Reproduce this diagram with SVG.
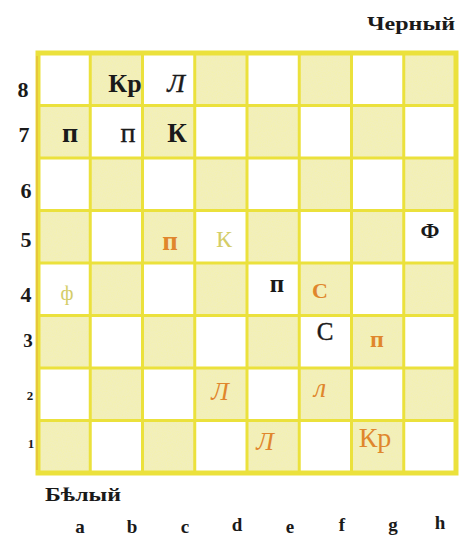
<svg xmlns="http://www.w3.org/2000/svg" width="473" height="542" viewBox="0 0 473 542">
<defs>
  <filter id="speck" x="0" y="0" width="100%" height="100%">
    <feTurbulence type="fractalNoise" baseFrequency="0.8" numOctaves="2" seed="3" result="n"/>
    <feColorMatrix in="n" type="matrix" values="0 0 0 0 0.9  0 0 0 0 0.88  0 0 0 0 0.42  0 0 0 -2.2 1.3" result="dots"/>
    <feComposite in="dots" in2="SourceGraphic" operator="in" result="dotsIn"/>
    <feMerge><feMergeNode in="SourceGraphic"/><feMergeNode in="dotsIn"/></feMerge>
  </filter>
</defs>
<style>
  .dk { fill: #f2efbb; }
  .grid { stroke: #ebe13c; stroke-width: 3; fill: none; }
  .lbl { font-family: "Liberation Serif", "DejaVu Serif", serif; font-weight: bold; fill: #1a1a1a; }
  .pc { font-family: "Liberation Serif", "DejaVu Serif", serif; text-anchor: middle; }
  .b { fill: #1a1a1a; font-weight: bold; }
  .bn { fill: #1a1a1a; }
  .o { fill: #e0862c; }
  .pale { fill: #d4cd68; }
  .file { font-family: "Liberation Serif", "DejaVu Serif", serif; font-weight: bold; font-size: 19px; fill: #1a1a1a; text-anchor: middle; }
  .rank { font-family: "Liberation Serif", "DejaVu Serif", serif; font-weight: bold; fill: #1a1a1a; text-anchor: middle; }
</style>
<rect x="0" y="0" width="473" height="542" fill="#ffffff"/>
<g id="board">
  <g id="dark-squares" filter="url(#speck)">
    <rect class="dk" x="90.25" y="53" width="52.25" height="52.5"/>
    <rect class="dk" x="194.75" y="53" width="52.25" height="52.5"/>
    <rect class="dk" x="299.25" y="53" width="52.25" height="52.5"/>
    <rect class="dk" x="403.75" y="53" width="52.25" height="52.5"/>
    <rect class="dk" x="38" y="105.5" width="52.25" height="52.5"/>
    <rect class="dk" x="142.5" y="105.5" width="52.25" height="52.5"/>
    <rect class="dk" x="247" y="105.5" width="52.25" height="52.5"/>
    <rect class="dk" x="351.5" y="105.5" width="52.25" height="52.5"/>
    <rect class="dk" x="90.25" y="158" width="52.25" height="52.5"/>
    <rect class="dk" x="194.75" y="158" width="52.25" height="52.5"/>
    <rect class="dk" x="299.25" y="158" width="52.25" height="52.5"/>
    <rect class="dk" x="403.75" y="158" width="52.25" height="52.5"/>
    <rect class="dk" x="38" y="210.5" width="52.25" height="52.5"/>
    <rect class="dk" x="142.5" y="210.5" width="52.25" height="52.5"/>
    <rect class="dk" x="247" y="210.5" width="52.25" height="52.5"/>
    <rect class="dk" x="351.5" y="210.5" width="52.25" height="52.5"/>
    <rect class="dk" x="90.25" y="263" width="52.25" height="52.5"/>
    <rect class="dk" x="194.75" y="263" width="52.25" height="52.5"/>
    <rect class="dk" x="299.25" y="263" width="52.25" height="52.5"/>
    <rect class="dk" x="403.75" y="263" width="52.25" height="52.5"/>
    <rect class="dk" x="38" y="315.5" width="52.25" height="52.5"/>
    <rect class="dk" x="142.5" y="315.5" width="52.25" height="52.5"/>
    <rect class="dk" x="247" y="315.5" width="52.25" height="52.5"/>
    <rect class="dk" x="351.5" y="315.5" width="52.25" height="52.5"/>
    <rect class="dk" x="90.25" y="368" width="52.25" height="52.5"/>
    <rect class="dk" x="194.75" y="368" width="52.25" height="52.5"/>
    <rect class="dk" x="299.25" y="368" width="52.25" height="52.5"/>
    <rect class="dk" x="403.75" y="368" width="52.25" height="52.5"/>
    <rect class="dk" x="38" y="420.5" width="52.25" height="52.5"/>
    <rect class="dk" x="142.5" y="420.5" width="52.25" height="52.5"/>
    <rect class="dk" x="247" y="420.5" width="52.25" height="52.5"/>
    <rect class="dk" x="351.5" y="420.5" width="52.25" height="52.5"/>
  </g>
  <g id="grid-lines" class="grid">
    <line x1="90.25" y1="53" x2="90.25" y2="473"/>
    <line x1="142.5" y1="53" x2="142.5" y2="473"/>
    <line x1="194.75" y1="53" x2="194.75" y2="473"/>
    <line x1="247" y1="53" x2="247" y2="473"/>
    <line x1="299.25" y1="53" x2="299.25" y2="473"/>
    <line x1="351.5" y1="53" x2="351.5" y2="473"/>
    <line x1="403.75" y1="53" x2="403.75" y2="473"/>
    <line x1="38" y1="105.5" x2="456" y2="105.5"/>
    <line x1="38" y1="158" x2="456" y2="158"/>
    <line x1="38" y1="210.5" x2="456" y2="210.5"/>
    <line x1="38" y1="263" x2="456" y2="263"/>
    <line x1="38" y1="315.5" x2="456" y2="315.5"/>
    <line x1="38" y1="368" x2="456" y2="368"/>
    <line x1="38" y1="420.5" x2="456" y2="420.5"/>
    <rect x="38" y="53" width="418" height="420" stroke-width="5"/>
  </g>
  <line x1="37" y1="56" x2="37" y2="470" stroke="#e2a83a" stroke-width="1.5" opacity="0.6"/>
</g>
<g id="titles">
  <text id="black-title" class="lbl" x="367" y="30" font-size="19" textLength="88" lengthAdjust="spacingAndGlyphs">Черный</text>
  <text id="white-title" class="lbl" x="45" y="501" font-size="19" textLength="76" lengthAdjust="spacingAndGlyphs">Бѣлый</text>
</g>
<g id="ranks">
  <text class="rank" x="23" y="97" font-size="22">8</text>
  <text class="rank" x="24" y="142" font-size="22">7</text>
  <text class="rank" x="26" y="198" font-size="22">6</text>
  <text class="rank" x="26" y="247" font-size="22">5</text>
  <text class="rank" x="26" y="302" font-size="22">4</text>
  <text class="rank" x="28" y="347" font-size="19">3</text>
  <text class="rank" x="30" y="400" font-size="13">2</text>
  <text class="rank" x="31" y="448" font-size="13">1</text>
</g>
<g id="files">
  <text class="file" x="80" y="533" font-size="15">a</text>
  <text class="file" x="132" y="533">b</text>
  <text class="file" x="185" y="533">c</text>
  <text class="file" x="237" y="531">d</text>
  <text class="file" x="290" y="533">e</text>
  <text class="file" x="342" y="531">f</text>
  <text class="file" x="393" y="531">g</text>
  <text class="file" x="440" y="529">h</text>
</g>
<g id="pieces">
  <g id="b8"><text class="pc b" x="125" y="92" font-size="26">Кр</text></g>
  <g id="c8"><text class="pc bn" x="176" y="92" font-size="26" font-style="italic" stroke="#1a1a1a" stroke-width="0.5">Л</text></g>
  <g id="a7"><text class="pc b" x="70" y="142" font-size="28">п</text></g>
  <g id="b7"><text class="pc bn" x="128" y="142" font-size="28" stroke="#1a1a1a" stroke-width="0.4">п</text></g>
  <g id="c7"><text class="pc b" x="177" y="142" font-size="27">К</text></g>
  <g id="h5"><text class="pc b" x="430" y="238" font-size="22">Ф</text></g>
  <g id="c5"><text class="pc o" x="170" y="250" font-size="27" font-weight="bold">п</text></g>
  <g id="d5"><text class="pc pale" x="224" y="247" font-size="24">К</text></g>
  <g id="a4"><text class="pc pale" x="67" y="300" font-size="20">ф</text></g>
  <g id="e4"><text class="pc b" x="277" y="292" font-size="25">п</text></g>
  <g id="f4"><text class="pc o" x="320" y="298" font-size="22" font-weight="bold">С</text></g>
  <g id="f3"><text class="pc bn" x="325" y="340" font-size="25" stroke="#1a1a1a" stroke-width="0.4">С</text></g>
  <g id="g3"><text class="pc o" x="377" y="347" font-size="24" font-weight="bold">п</text></g>
  <g id="d2"><text class="pc o" x="220" y="400" font-size="26" font-style="italic">Л</text></g>
  <g id="f2"><text class="pc o" x="320" y="397" font-size="28" font-style="italic">л</text></g>
  <g id="e1"><text class="pc o" x="265" y="450" font-size="26" font-style="italic">Л</text></g>
  <g id="g1"><text class="pc o" x="375" y="447" font-size="28">Кр</text></g>
</g>
</svg>
